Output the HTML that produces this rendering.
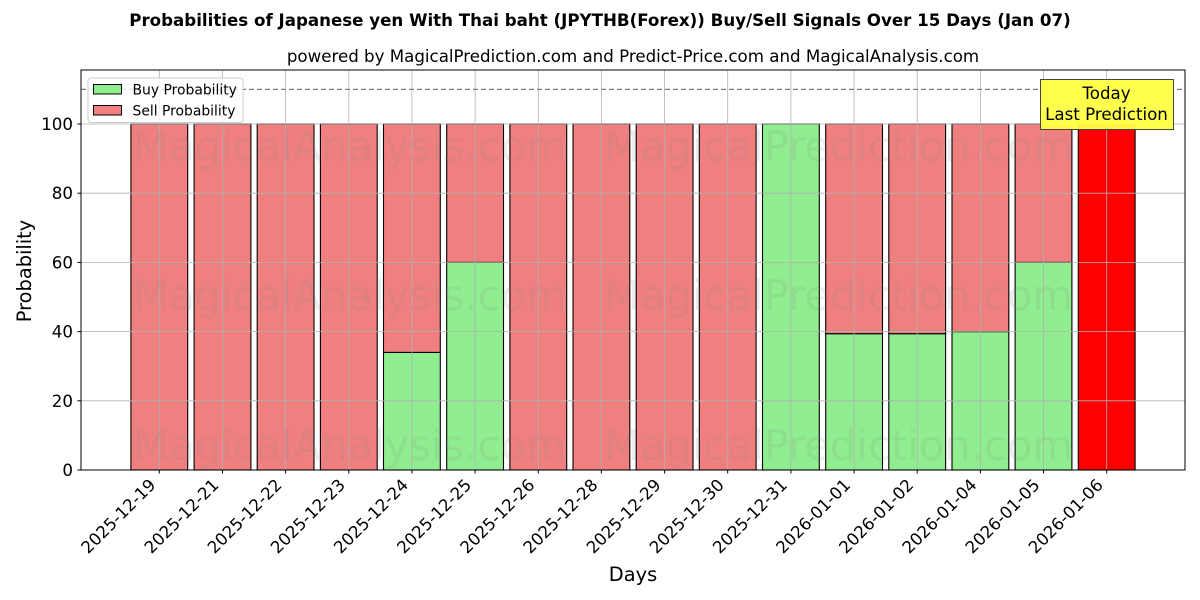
<!DOCTYPE html>
<html><head><meta charset="utf-8"><style>
html,body{margin:0;padding:0;background:#fff;}
svg{display:block;font-family:"DejaVu Sans","Liberation Sans",sans-serif;}
</style></head><body>
<svg width="1200" height="600" viewBox="0 0 1200 600" xmlns="http://www.w3.org/2000/svg">
<rect width="1200" height="600" fill="#fff"/>
<text x="600" y="26" font-size="16.67" font-weight="bold" text-anchor="middle" fill="#000">Probabilities of Japanese yen With Thai baht (JPYTHB(Forex)) Buy/Sell Signals Over 15 Days (Jan 07)</text>
<text x="633" y="62" font-size="16.67" text-anchor="middle" fill="#000">powered by MagicalPrediction.com and Predict-Price.com and MagicalAnalysis.com</text>

<g stroke="#000" stroke-width="1.1">
<rect x="130.9" y="124" width="56.8" height="346" fill="#f08080"/>
<rect x="194.1" y="124" width="56.8" height="346" fill="#f08080"/>
<rect x="257.2" y="124" width="56.8" height="346" fill="#f08080"/>
<rect x="320.4" y="124" width="56.8" height="346" fill="#f08080"/>
<rect x="383.5" y="352.4" width="56.8" height="117.6" fill="#90ee90"/>
<rect x="383.5" y="124" width="56.8" height="228.4" fill="#f08080"/>
<rect x="446.7" y="262.4" width="56.8" height="207.6" fill="#90ee90"/>
<rect x="446.7" y="124" width="56.8" height="138.4" fill="#f08080"/>
<rect x="509.9" y="124" width="56.8" height="346" fill="#f08080"/>
<rect x="573.0" y="124" width="56.8" height="346" fill="#f08080"/>
<rect x="636.2" y="124" width="56.8" height="346" fill="#f08080"/>
<rect x="699.3" y="124" width="56.8" height="346" fill="#f08080"/>
<rect x="762.5" y="124" width="56.8" height="346" fill="#90ee90"/>
<rect x="825.7" y="333.7" width="56.8" height="136.3" fill="#90ee90"/>
<rect x="825.7" y="124" width="56.8" height="209.7" fill="#f08080"/>
<rect x="888.8" y="333.7" width="56.8" height="136.3" fill="#90ee90"/>
<rect x="888.8" y="124" width="56.8" height="209.7" fill="#f08080"/>
<rect x="952.0" y="331.6" width="56.8" height="138.4" fill="#90ee90"/>
<rect x="952.0" y="124" width="56.8" height="207.6" fill="#f08080"/>
<rect x="1015.1" y="262.4" width="56.8" height="207.6" fill="#90ee90"/>
<rect x="1015.1" y="124" width="56.8" height="138.4" fill="#f08080"/>
<rect x="1078.3" y="124" width="56.8" height="346" fill="#ff0000"/>
</g>

<g stroke="#b0b0b0" stroke-width="0.8">
<line x1="81" x2="1185" y1="400.8" y2="400.8"/>
<line x1="81" x2="1185" y1="331.6" y2="331.6"/>
<line x1="81" x2="1185" y1="262.4" y2="262.4"/>
<line x1="81" x2="1185" y1="193.2" y2="193.2"/>
<line x1="81" x2="1185" y1="124" y2="124"/>
<line y1="70" y2="470" x1="159.3" x2="159.3"/>
<line y1="70" y2="470" x1="222.5" x2="222.5"/>
<line y1="70" y2="470" x1="285.6" x2="285.6"/>
<line y1="70" y2="470" x1="348.8" x2="348.8"/>
<line y1="70" y2="470" x1="411.9" x2="411.9"/>
<line y1="70" y2="470" x1="475.1" x2="475.1"/>
<line y1="70" y2="470" x1="538.3" x2="538.3"/>
<line y1="70" y2="470" x1="601.4" x2="601.4"/>
<line y1="70" y2="470" x1="664.6" x2="664.6"/>
<line y1="70" y2="470" x1="727.7" x2="727.7"/>
<line y1="70" y2="470" x1="790.9" x2="790.9"/>
<line y1="70" y2="470" x1="854.1" x2="854.1"/>
<line y1="70" y2="470" x1="917.2" x2="917.2"/>
<line y1="70" y2="470" x1="980.4" x2="980.4"/>
<line y1="70" y2="470" x1="1043.5" x2="1043.5"/>
<line y1="70" y2="470" x1="1106.7" x2="1106.7"/>
</g>

<g font-size="41.7" fill="#808080" fill-opacity="0.14">
<text x="133" y="161">MagicalAnalysis.com</text>
<text x="604" y="161">MagicalPrediction.com</text>
<text x="133" y="310">MagicalAnalysis.com</text>
<text x="604" y="310">MagicalPrediction.com</text>
<text x="133" y="460">MagicalAnalysis.com</text>
<text x="604" y="460">MagicalPrediction.com</text>
</g>

<line x1="81" x2="1185" y1="89.4" y2="89.4" stroke="#808080" stroke-width="1.2" stroke-dasharray="5,3"/>

<rect x="81" y="70" width="1104" height="400" fill="none" stroke="#000" stroke-width="1"/>

<g stroke="#000" stroke-width="1">
<line x1="77.5" x2="81" y1="470" y2="470"/>
<line x1="77.5" x2="81" y1="400.8" y2="400.8"/>
<line x1="77.5" x2="81" y1="331.6" y2="331.6"/>
<line x1="77.5" x2="81" y1="262.4" y2="262.4"/>
<line x1="77.5" x2="81" y1="193.2" y2="193.2"/>
<line x1="77.5" x2="81" y1="124" y2="124"/>
</g>
<g font-size="16.67" text-anchor="end" fill="#000">
<text x="73" y="476">0</text>
<text x="73" y="406.8">20</text>
<text x="73" y="337.6">40</text>
<text x="73" y="268.4">60</text>
<text x="73" y="199.2">80</text>
<text x="73" y="130">100</text>
</g>

<g stroke="#000" stroke-width="1">
<line y1="470" y2="473.5" x1="159.3" x2="159.3"/>
<line y1="470" y2="473.5" x1="222.5" x2="222.5"/>
<line y1="470" y2="473.5" x1="285.6" x2="285.6"/>
<line y1="470" y2="473.5" x1="348.8" x2="348.8"/>
<line y1="470" y2="473.5" x1="411.9" x2="411.9"/>
<line y1="470" y2="473.5" x1="475.1" x2="475.1"/>
<line y1="470" y2="473.5" x1="538.3" x2="538.3"/>
<line y1="470" y2="473.5" x1="601.4" x2="601.4"/>
<line y1="470" y2="473.5" x1="664.6" x2="664.6"/>
<line y1="470" y2="473.5" x1="727.7" x2="727.7"/>
<line y1="470" y2="473.5" x1="790.9" x2="790.9"/>
<line y1="470" y2="473.5" x1="854.1" x2="854.1"/>
<line y1="470" y2="473.5" x1="917.2" x2="917.2"/>
<line y1="470" y2="473.5" x1="980.4" x2="980.4"/>
<line y1="470" y2="473.5" x1="1043.5" x2="1043.5"/>
<line y1="470" y2="473.5" x1="1106.7" x2="1106.7"/>
</g>
<g font-size="16.67" text-anchor="end" fill="#000">
<text transform="translate(156.6,486) rotate(-45)">2025-12-19</text>
<text transform="translate(219.8,486) rotate(-45)">2025-12-21</text>
<text transform="translate(282.9,486) rotate(-45)">2025-12-22</text>
<text transform="translate(346.1,486) rotate(-45)">2025-12-23</text>
<text transform="translate(409.2,486) rotate(-45)">2025-12-24</text>
<text transform="translate(472.4,486) rotate(-45)">2025-12-25</text>
<text transform="translate(535.6,486) rotate(-45)">2025-12-26</text>
<text transform="translate(598.7,486) rotate(-45)">2025-12-28</text>
<text transform="translate(661.9,486) rotate(-45)">2025-12-29</text>
<text transform="translate(725.0,486) rotate(-45)">2025-12-30</text>
<text transform="translate(788.2,486) rotate(-45)">2025-12-31</text>
<text transform="translate(851.4,486) rotate(-45)">2026-01-01</text>
<text transform="translate(914.5,486) rotate(-45)">2026-01-02</text>
<text transform="translate(977.7,486) rotate(-45)">2026-01-04</text>
<text transform="translate(1040.8,486) rotate(-45)">2026-01-05</text>
<text transform="translate(1104.0,486) rotate(-45)">2026-01-06</text>
</g>

<text x="633" y="581" font-size="19.4" text-anchor="middle" fill="#000">Days</text>
<text transform="translate(31,271) rotate(-90)" font-size="19.4" text-anchor="middle" fill="#000">Probability</text>

<rect x="88" y="78" width="155" height="44.5" rx="3" fill="#fff" fill-opacity="0.8" stroke="#cccccc" stroke-width="1"/>
<rect x="93.5" y="84.5" width="28" height="9.5" fill="#90ee90" stroke="#000" stroke-width="1"/>
<rect x="93.5" y="105.5" width="28" height="9.5" fill="#f08080" stroke="#000" stroke-width="1"/>
<text x="132.5" y="94.5" font-size="13.9" fill="#000">Buy Probability</text>
<text x="132.5" y="115.5" font-size="13.9" fill="#000">Sell Probability</text>

<rect x="1040.5" y="79.5" width="133" height="50" fill="#ffff44" fill-opacity="0.95" stroke="#444" stroke-width="1"/>
<text x="1106.5" y="99" font-size="16.67" text-anchor="middle" fill="#000">Today</text>
<text x="1106.5" y="120" font-size="16.67" text-anchor="middle" fill="#000">Last Prediction</text>
</svg>
</body></html>
